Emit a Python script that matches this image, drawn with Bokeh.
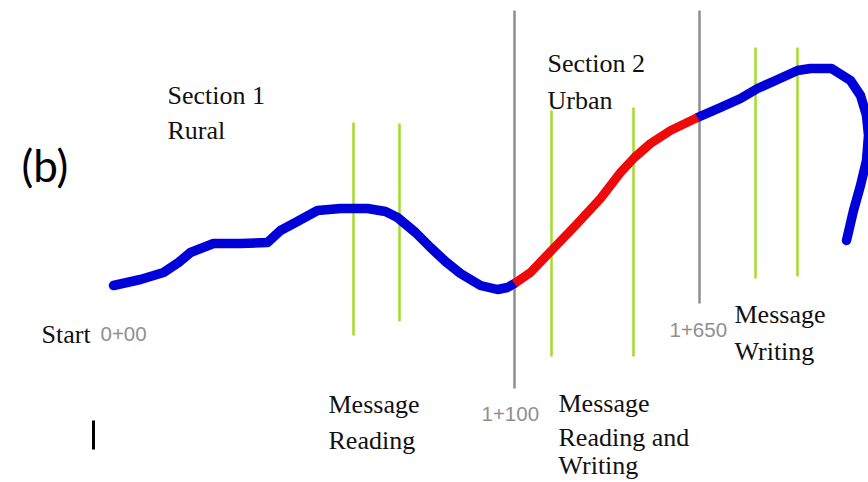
from bokeh.plotting import figure
from bokeh.models import Range1d, ColumnDataSource
from bokeh.core.properties import value
from bokeh.embed import file_html
from bokeh.resources import INLINE

# Route trace (map coordinates; y grows downward)
rural_x = [113, 140, 163, 178, 190, 213, 240, 267, 280, 295, 317, 340, 367, 385, 397, 415, 430, 445, 460, 480, 497, 507, 514]
rural_y = [285, 279, 272, 262, 252, 243, 243, 242, 230, 222, 210, 208, 208, 211, 217, 232, 247, 261, 273, 285, 289, 287, 283]
urban_x = [514, 530, 551, 575, 600, 620, 634, 650, 670, 697]
urban_y = [283, 272, 250, 225, 198, 172, 157, 143, 130, 117]
exit_x = [697, 720, 740, 757, 775, 797, 810, 831, 850, 860, 866, 868, 866, 860, 853, 846]
exit_y = [117, 107, 98, 88, 80, 70, 68, 68, 80, 95, 115, 135, 160, 185, 210, 240]

# Message event markers (green) and section boundaries (gray)
event_x = [353, 399, 551, 633, 755, 797]
event_top = [122, 123, 110, 107, 47, 47]
event_bottom = [335, 321, 356, 356, 278, 276]
bound_x = [514, 699]
bound_top = [10, 10]
bound_bottom = [388, 303]

# Text labels
label_text = ["Section 1", "Rural", "Section 2", "Urban", "Start",
              "Message", "Reading", "Message", "Reading and", "Writing",
              "Message", "Writing"]
label_x = [167, 167, 547, 547, 41, 328, 328, 558, 558, 558, 734, 734]
label_y = [95, 130, 63, 100, 334, 404, 440, 403, 437, 465, 314, 351]

station_text = ["0+00", "1+100", "1+650"]
station_x = [100, 481, 669]
station_y = [333, 413, 329]

panel_text = ["(b)"]
panel_x = [21]
panel_y = [164]

mark_x = [93]
mark_top = [420]
mark_bottom = [449]

p = figure(width=868, height=482, output_backend="svg", toolbar_location=None,
           x_range=Range1d(0, 868), y_range=Range1d(482, 0),
           min_border=0, background_fill_color="white", border_fill_color="white")
p.xaxis.visible = False
p.yaxis.visible = False
p.grid.visible = False
p.outline_line_color = None

p.segment(x0=bound_x, y0=bound_top, x1=bound_x, y1=bound_bottom,
          line_color="#8e8e8e", line_width=2.5)
p.segment(x0=event_x, y0=event_top, x1=event_x, y1=event_bottom,
          line_color="#a2dc2c", line_width=2.5)

p.line(rural_x, rural_y, line_color="#0000d8", line_width=9.5,
       line_join="round", line_cap="round")
p.line(exit_x, exit_y, line_color="#0000d8", line_width=9.5,
       line_join="round", line_cap="round")
p.line(urban_x, urban_y, line_color="#ee0a0a", line_width=9,
       line_join="round", line_cap="butt")

p.segment(x0=mark_x, y0=mark_top, x1=mark_x, y1=mark_bottom,
          line_color="black", line_width=3)

src = ColumnDataSource(dict(x=label_x, y=label_y, t=label_text))
p.text(x="x", y="y", text="t", source=src, text_font=value("Liberation Serif"),
       text_font_size="26px", text_color="#111111",
       text_align="left", text_baseline="alphabetic")

src2 = ColumnDataSource(dict(x=station_x, y=station_y, t=station_text))
p.text(x="x", y="y", text="t", source=src2, text_font=value("Liberation Sans"),
       text_font_size="20.5px", text_color="#909090",
       text_align="left", text_baseline="alphabetic")

src3 = ColumnDataSource(dict(x=panel_x, y=panel_y, t=panel_text))
p.text(x="x", y="y", text="t", source=src3, text_font=value("Lato"),
       text_font_size="44px", text_color="#000000",
       text_align="left", text_baseline="alphabetic")

open("out.html", "w").write(file_html(p, INLINE))
